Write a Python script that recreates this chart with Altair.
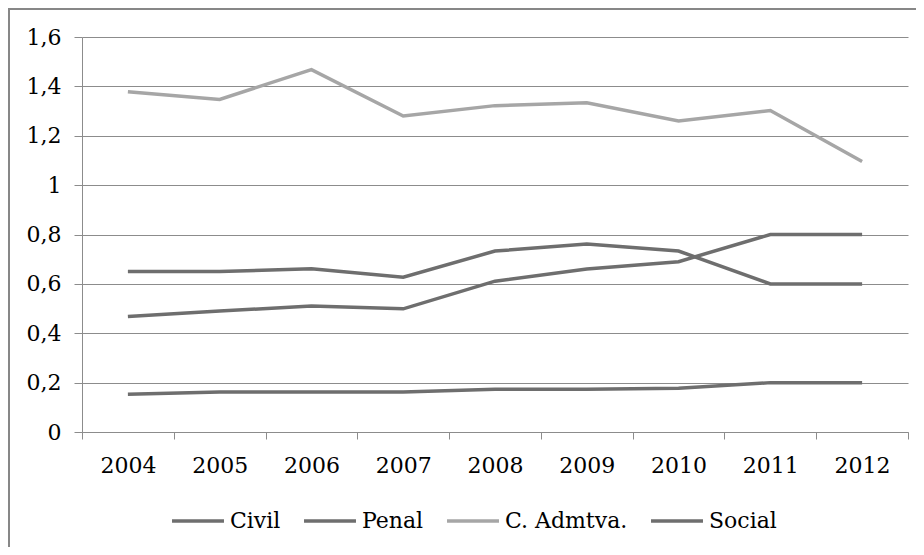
import altair as alt
import pandas as pd

years = ["2004", "2005", "2006", "2007", "2008", "2009", "2010", "2011", "2012"]
civil = [0.650, 0.650, 0.661, 0.627, 0.733, 0.761, 0.733, 0.600, 0.600]
penal = [0.468, 0.490, 0.510, 0.499, 0.611, 0.660, 0.690, 0.800, 0.800]
admtva = [1.378, 1.347, 1.468, 1.280, 1.322, 1.334, 1.260, 1.302, 1.096]
social = [0.153, 0.162, 0.162, 0.162, 0.173, 0.173, 0.177, 0.200, 0.200]
series = ["Civil", "Penal", "C. Admtva.", "Social"]
colors = ["#6e6e6e", "#6e6e6e", "#a6a6a6", "#6e6e6e"]
y_ticks = [0, 0.2, 0.4, 0.6, 0.8, 1.0, 1.2, 1.4, 1.6]

rows = []
for name, vals in zip(series, [civil, penal, admtva, social]):
    for yr, v in zip(years, vals):
        rows.append({"year": yr, "value": v, "series": name})
df = pd.DataFrame(rows)

FONT = "DejaVu Serif"
GRID = "#8c8c8c"

lines = alt.Chart(df).mark_line(strokeWidth=3.5).encode(
    x=alt.X(
        "year:O",
        sort=years,
        bandPosition=0.5,
        scale=alt.Scale(type="band", paddingInner=0, paddingOuter=0),
        axis=alt.Axis(
            title=None, labelAngle=0, tickBand="extent", grid=False,
            domainColor=GRID, tickColor=GRID, tickSize=7,
            labelFontSize=22, labelColor="#000000",
            labelPadding=16, labelBaseline="top",
        ),
    ),
    y=alt.Y(
        "value:Q",
        scale=alt.Scale(domain=[0, 1.6], nice=False, zero=True),
        axis=alt.Axis(
            title=None, values=y_ticks, grid=True, gridColor=GRID,
            domainColor=GRID, tickColor=GRID, tickSize=8,
            labelFontSize=22, labelColor="#000000",
            labelPadding=13,
            labelExpr="replace(toString(round(datum.value*10)/10), '.', ',')",
        ),
    ),
    color=alt.Color(
        "series:N",
        sort=series,
        scale=alt.Scale(domain=series, range=colors),
        legend=alt.Legend(
            title=None, orient="none", legendX=88, legendY=456,
            direction="horizontal", symbolType="stroke", symbolSize=2700,
            symbolStrokeWidth=3.5, labelFontSize=22,
            labelColor="#000000", columnPadding=16, labelOffset=4,
            padding=0,
        ),
    ),
    detail="series:N",
)

border = alt.Chart(alt.Data(values=[{"a": 1}])).mark_rect(
    fill=None, stroke="#878787", strokeWidth=2
).encode(
    x=alt.value(-73), y=alt.value(-28), x2=alt.value(2000), y2=alt.value(2000)
)

chart = alt.layer(border, lines).properties(
    width=826, height=395,
    autosize=alt.AutoSizeParams(type="none"),
    padding={"left": 74, "top": 29, "right": 8, "bottom": 115},
).configure(
    background="#ffffff", font=FONT
).configure_view(stroke=None).configure_axis(
    labelFont=FONT
).configure_legend(labelFont=FONT)

chart.save("out.html", embed_options={"renderer": "svg", "actions": False})
